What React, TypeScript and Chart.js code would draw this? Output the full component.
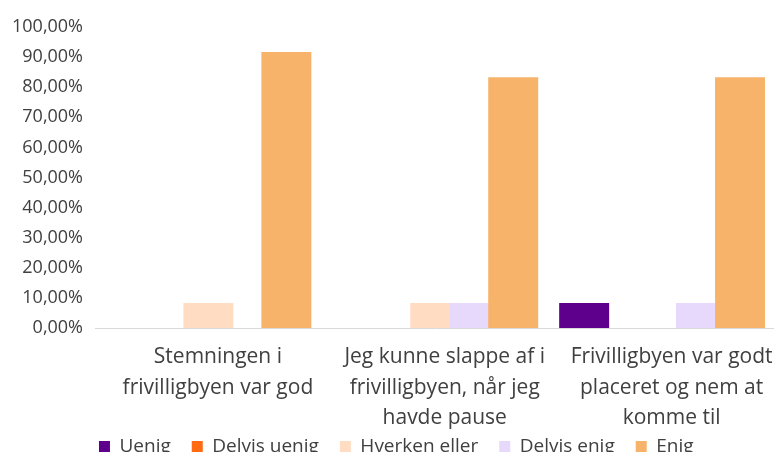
import React, { useEffect, useRef } from "react";
import { Chart, registerables } from "chart.js";

Chart.register(...registerables);

const categories: string[][] = [
  ["Stemningen i", "frivilligbyen var god"],
  ["Jeg kunne slappe af i", "frivilligbyen, når jeg", "havde pause"],
  ["Frivilligbyen var godt", "placeret og nem at", "komme til"],
];

const seriesNames = ["Uenig", "Delvis uenig", "Hverken eller", "Delvis enig", "Enig"];
const seriesColors = ["#5f008c", "#ff6a13", "#ffdcc2", "#e6d9fc", "#f8b36b"];

const uenig = [0, 0, 8.33];
const delvisUenig = [0, 0, 0];
const hverkenEller = [8.33, 8.33, 0];
const delvisEnig = [0, 8.33, 8.33];
const enig = [91.67, 83.33, 83.33];

const yTicks = [0, 10, 20, 30, 40, 50, 60, 70, 80, 90, 100];

const FONT = "'Open Sans', sans-serif";
const TEXT = "#404040";

const drawOrderPlugin = {
  id: "drawOrder",
  afterLayout(chart: any) {
    // let multi-line category labels draw below the axis box
    const x = chart.scales.x;
    if (x) x.bottom = chart.height;
    const lg = chart.legend;
    if (lg) {
      lg.left += 8.5;
      lg.right += 8.5;
      lg.top += 2;
      lg.bottom += 2;
    }
  },
  beforeDatasetDraw() {
    return false;
  },
  afterDatasetsDraw(chart: any) {
    for (let i = 0; i < chart.data.datasets.length; i++) {
      const meta = chart.getDatasetMeta(i);
      if (!meta.hidden) meta.controller.draw();
    }
  },
};

export default function App() {
  const ref = useRef<HTMLCanvasElement | null>(null);

  useEffect(() => {
    if (!ref.current) return;
    const values = [uenig, delvisUenig, hverkenEller, delvisEnig, enig];
    const chart = new Chart(ref.current, {
      type: "bar",
      data: {
        labels: categories,
        datasets: seriesNames.map((name, i) => ({
          label: name,
          data: values[i],
          backgroundColor: seriesColors[i],
          borderWidth: 0,
          categoryPercentage: 0.859,
          barPercentage: 1.282,
        })),
      },
      options: {
        animation: false,
        responsive: true,
        maintainAspectRatio: false,
        layout: { padding: { top: 27, right: 14.5, left: 0, bottom: 0 } },
        plugins: {
          tooltip: { enabled: false },
          legend: {
            position: "bottom",
            labels: {
              boxWidth: 11,
              boxHeight: 11,
              padding: 21,
              color: TEXT,
              font: { family: FONT, size: 19 },
            },
          },
        },
        scales: {
          x: {
            grid: { display: false, drawTicks: false },
            border: { display: true, color: "#d9d9d9", width: 1 },
            ticks: {
              color: TEXT,
              font: { family: FONT, size: 21, lineHeight: 1.45 },
              padding: 14,
              labelOffset: 9.5,
              maxRotation: 0,
              autoSkip: false,
            },
            afterFit: (scale: any) => {
              scale.height = 86;
            },
          },
          y: {
            min: 0,
            max: 100,
            grid: { display: false, drawTicks: false },
            border: { display: false },
            afterBuildTicks: (scale: any) => {
              scale.ticks = yTicks.map((v) => ({ value: v }));
            },
            ticks: {
              color: TEXT,
              font: { family: FONT, size: 18 },
              padding: 12,
              callback: (v: any) => `${v},00%`,
            },
            afterFit: (scale: any) => {
              scale.width = 95;
            },
          },
        },
      },
      plugins: [drawOrderPlugin],
    });
    return () => chart.destroy();
  }, []);

  return (
    <div
      style={{
        position: "fixed",
        left: 0,
        top: 0,
        width: 774,
        height: 452,
        overflow: "hidden",
        background: "#ffffff",
      }}
    >
      <div style={{ position: "relative", width: 790, height: 464 }}>
        <canvas ref={ref} />
      </div>
    </div>
  );
}
